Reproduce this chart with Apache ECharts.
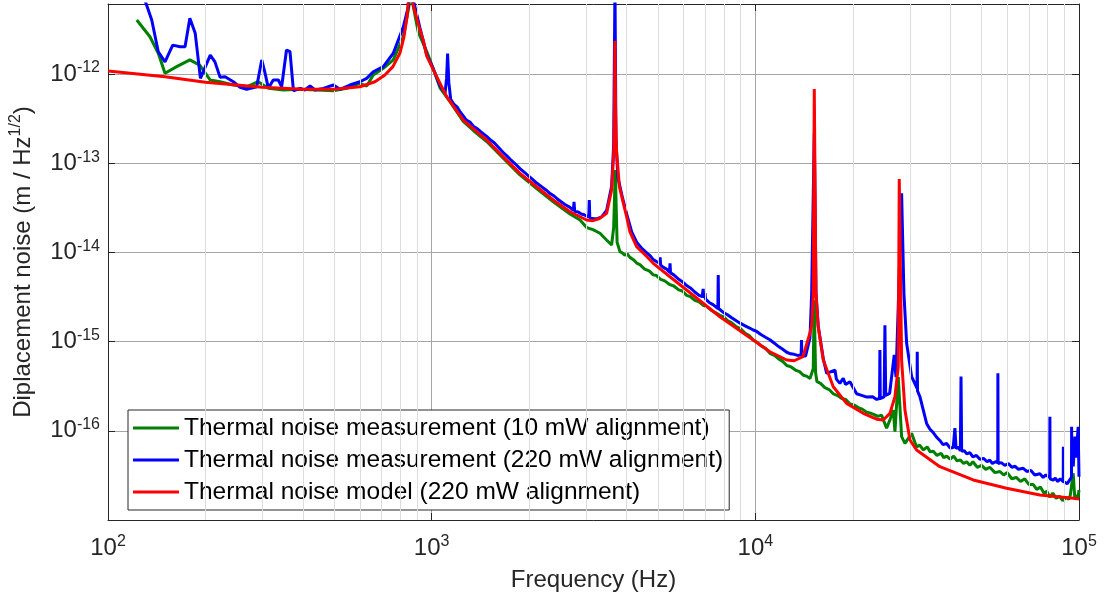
<!DOCTYPE html>
<html><head><meta charset="utf-8">
<script src="https://cdn.jsdelivr.net/npm/echarts@6.0.0/dist/echarts.min.js"></script>
<style>html,body{margin:0;padding:0;background:#fff}#c{width:1107px;height:607px}</style>
</head><body><div id="c"></div>
<script>
// ---- data (frequency Hz, displacement noise m/Hz^0.5) ----
const seriesNames = [
  'Thermal noise measurement (10 mW alignment)',
  'Thermal noise measurement (220 mW alignment)',
  'Thermal noise model (220 mW alignment)'
];
const xRange = [100, 100000];
const yRange = [1e-17, 6.1e-12];

const measured10mW = [
  [122.7,4.03e-12],[134.8,2.62e-12],[143,1.71e-12],[150,1.02e-12],[163,1.21e-12],[179,1.44e-12],
  [192,1.26e-12],[207,8.57e-13],[222,8.2e-13],[244,7.53e-13],[268,7.2e-13],[291,8.2e-13],
  [313,6.91e-13],[348,6.62e-13],[392,6.74e-13],[441,6.62e-13],[497,6.5e-13],[546,6.91e-13],
  [600,7.87e-13],[630,7.34e-13],[660,9.74e-13],[709,1.16e-12],[761,1.44e-12],[817,2.62e-12],
  [847,5.22e-12],[862,8e-12],[909,2.95e-12],[965,1.8e-12],[1011,1.15e-12],[1061,7.0e-13],
  [1139,4.9e-13],[1252,2.95e-13],[1350,2.3e-13],[1479,1.75e-13],[1664,1.14e-13],[1874,7.4e-14],
  [2110,5.2e-14],[2375,3.7e-14],[2675,2.7e-14],[2873,2.31e-14],[3012,1.9e-14],[3150,1.8e-14],
  [3311,1.64e-14],[3470,1.38e-14],[3597,1.21e-14],[3650,1.9e-14],[3692,8.4e-14],[3740,1.3e-14],
  [3817,1.02e-14],[3880,9.9e-15],[3950,9.3e-15],[4020,9.6e-15],[4098,8.8e-15],[4200,8.3e-15],
  [4298,7.6e-15],[4400,7.3e-15],[4550,6.5e-15],[4700,6.2e-15],[4838,5.6e-15],[4950,5.5e-15],
  [5100,5.0e-15],[5250,4.8e-15],[5448,4.35e-15],[5600,4.2e-15],[5800,3.8e-15],[5950,3.7e-15],
  [6134,3.3e-15],[6300,3.2e-15],[6500,2.9e-15],[6700,2.8e-15],[6905,2.55e-15],[7100,2.45e-15],
  [7300,2.25e-15],[7550,2.1e-15],[7773,1.97e-15],[8000,1.88e-15],[8200,1.72e-15],[8450,1.62e-15],
  [8753,1.46e-15],[9000,1.4e-15],[9300,1.24e-15],[9600,1.16e-15],[9851,1.04e-15],[10100,9.9e-16],
  [10400,9.0e-16],[10750,8.4e-16],[11090,7.4e-16],[11450,7.0e-16],[11800,6.4e-16],[12150,6.0e-16],
  [12500,5.4e-16],[12900,5.2e-16],[13300,4.8e-16],[13700,4.6e-16],[14070,4.2e-16],[14400,4.1e-16],
  [14750,3.85e-16],[15100,5e-16],[15200,2.9e-15],[15350,4.5e-16],[15500,3.55e-16],[15900,3.4e-16],
  [16400,3.05e-16],[16900,2.9e-16],[17410,2.6e-16],[17900,2.5e-16],[18500,2.3e-16],[19000,2.25e-16],
  [19600,2.0e-16],[20200,1.95e-16],[20800,1.82e-16],[21400,1.75e-16],[22080,1.62e-16],[22700,1.58e-16],
  [23300,1.52e-16],[23900,1.45e-16],[24550,1.5e-16],[25440,1.07e-16],[26000,1.3e-16],[26680,1.71e-16],
  [27000,9.77e-17],[27640,4e-16],[28310,8.59e-17],[28990,7.24e-17],[30400,9.37e-17],[31490,6.6e-17],
  [32200,6.9e-17],[33000,6.1e-17],[34000,6.6e-17],[34700,5.8e-17],[35460,5.9e-17],[36400,5.3e-17],
  [37500,5.6e-17],[38200,5.0e-17],[39000,5.2e-17],[40000,4.8e-17],[41000,5.2e-17],[42000,4.6e-17],
  [43000,4.7e-17],[44000,4.3e-17],[44960,4.5e-17],[46000,4.1e-17],[47000,4.5e-17],[48500,3.9e-17],
  [50000,4.1e-17],[51500,3.7e-17],[53000,3.9e-17],[55000,3.4e-17],[56970,3.5e-17],[58500,3.2e-17],
  [60000,3.4e-17],[62000,2.9e-17],[64000,3.0e-17],[66000,2.7e-17],[68000,2.9e-17],[70000,2.5e-17],
  [72240,2.5e-17],[74000,2.2e-17],[76000,2.35e-17],[78000,2.0e-17],[79500,2.1e-17],[81300,1.8e-17],
  [83000,2.0e-17],[85000,1.75e-17],[87000,1.85e-17],[89000,1.65e-17],[91560,1.8e-17],[93000,1.7e-17],
  [94000,1.9e-17],[95960,3.34e-17],[97000,1.8e-17],[98300,1.9e-17],[99200,1.75e-17],[100000,2.17e-17]
];

const measured220mW = [
  [122.7,1.2e-11],[130,6.75e-12],[136.5,4.03e-12],[143,1.78e-12],[150,1.37e-12],[158.5,2.11e-12],
  [167,2.02e-12],[173,2.02e-12],[179,4.22e-12],[186,2.86e-12],[193,8.95e-13],[207,1.63e-12],
  [214,1.37e-12],[222,9.18e-13],[230,9.33e-13],[244,8.2e-13],[256,7.1e-13],[268,6.74e-13],
  [288,7.2e-13],[298.5,1.44e-12],[305,1.06e-12],[313,6.91e-13],[324,8.57e-13],[336,8.57e-13],
  [344,7.2e-13],[356,1.86e-12],[365,1.78e-12],[374,6.5e-13],[392,6.91e-13],[406,6.62e-13],
  [421,7.34e-13],[436,6.62e-13],[463,6.91e-13],[497,7.53e-13],[521,6.74e-13],[559,7.53e-13],
  [600,8.2e-13],[630,8.95e-13],[660,1.06e-12],[709,1.21e-12],[761,1.71e-12],[817,3.36e-12],
  [847,5.69e-12],[858,1.5e-11],[880,6.5e-12],[920,3.3e-12],[965,1.65e-12],[1011,1.15e-12],
  [1061,7.4e-13],[1100,6.1e-13],[1112,9e-13],[1120,1.7e-12],[1130,8e-13],[1145,5.2e-13],
  [1170,4.6e-13],[1200,4.25e-13],[1225,3.75e-13],[1252,3.4e-13],[1280,3.05e-13],[1313,2.9e-13],
  [1345,2.6e-13],[1380,2.45e-13],[1420,2.25e-13],[1479,2.0e-13],[1520,1.82e-13],[1560,1.7e-13],
  [1610,1.5e-13],[1664,1.32e-13],[1710,1.2e-13],[1760,1.08e-13],[1815,9.8e-14],[1874,8.7e-14],
  [1935,7.9e-14],[2000,7.1e-14],[2050,6.6e-14],[2110,6.0e-14],[2180,5.5e-14],[2250,5.05e-14],
  [2310,4.65e-14],[2375,4.35e-14],[2440,4.0e-14],[2500,3.75e-14],[2580,3.45e-14],[2675,3.2e-14],
  [2740,2.95e-14],[2753,3.7e-14],[2766,2.9e-14],[2830,2.85e-14],[2900,2.7e-14],[2960,2.65e-14],
  [3012,2.55e-14],[3058,2.5e-14],[3069,3.87e-14],[3080,2.45e-14],[3150,2.4e-14],[3233,2.38e-14],
  [3350,2.5e-14],[3471,2.95e-14],[3597,5.5e-14],[3650,1.6e-13],[3684,1e-11],[3710,1.8e-13],
  [3760,7e-14],[3893,4e-14],[4004,2.7e-14],[4150,1.7e-14],[4298,1.3e-14],[4450,1.12e-14],
  [4627,9.8e-15],[4730,9.2e-15],[4838,8.3e-15],[4950,7.9e-15],[5060,7.6e-15],[5080,8.8e-15],
  [5100,7.2e-15],[5200,6.8e-15],[5320,6.5e-15],[5430,6.0e-15],[5450,7.55e-15],[5470,5.9e-15],
  [5600,5.6e-15],[5800,5.0e-15],[5950,4.7e-15],[6134,4.25e-15],[6300,4.0e-15],[6500,3.6e-15],
  [6700,3.3e-15],[6850,3.2e-15],[6900,3.9e-15],[6930,3.1e-15],[6990,3.5e-15],[7020,3.0e-15],
  [7200,2.75e-15],[7400,2.6e-15],[7550,2.45e-15],[7660,2.35e-15],[7680,5.58e-15],[7700,2.35e-15],
  [7773,2.3e-15],[8000,2.1e-15],[8200,2.0e-15],[8450,1.85e-15],[8753,1.7e-15],[9000,1.6e-15],
  [9300,1.5e-15],[9600,1.42e-15],[9851,1.35e-15],[10100,1.3e-15],[10400,1.2e-15],[10750,1.12e-15],
  [11090,1.05e-15],[11450,9.6e-16],[11800,8.8e-16],[12150,8.2e-16],[12500,7.6e-16],[12850,7.3e-16],
  [13180,7.2e-16],[13500,7.0e-16],[13850,7.1e-16],[13890,1.04e-15],[13930,6.9e-16],[14300,6.9e-16],
  [14750,1.1e-15],[14930,3.5e-15],[15210,2.2e-13],[15400,3.5e-15],[15640,1.5e-15],[16210,6.5e-16],
  [16610,4.41e-16],[17620,4.8e-16],[17800,3.8e-16],[18250,3.4e-16],[18690,3.88e-16],[19000,3.3e-16],
  [19600,3.55e-16],[20560,2.6e-16],[21300,2.5e-16],[22000,2.4e-16],[23040,2.41e-16],[23700,2.25e-16],
  [24200,2.3e-16],[24260,8.05e-16],[24320,2.3e-16],[25000,2.4e-16],[25140,1.53e-15],[25280,2.5e-16],
  [26000,2.63e-16],[26860,7.08e-16],[27200,4e-16],[27640,2.46e-15],[28310,4.6e-14],[28780,3.48e-15],
  [29340,9.57e-16],[30400,4.05e-16],[31600,3.0e-16],[31640,7.7e-16],[31700,2.8e-16],[32250,2.41e-16],
  [33820,1.21e-16],[34600,1.05e-16],[35500,9.5e-17],[36300,8.5e-17],[37160,7.8e-17],[38000,7.0e-17],
  [39000,7.2e-17],[40000,6.4e-17],[40870,6.5e-17],[41360,1.07e-16],[41700,6.3e-17],[42300,6.6e-17],
  [43000,6.0e-17],[43200,4.05e-16],[43400,5.9e-17],[44200,6.0e-17],[45000,5.5e-17],[46000,5.7e-17],
  [47000,5.1e-17],[48200,5.3e-17],[49420,4.8e-17],[50700,4.9e-17],[52000,4.5e-17],[53000,4.7e-17],
  [54000,4.3e-17],[55200,4.5e-17],[56100,4.4e-17],[56160,4.41e-16],[56250,4.3e-17],[57500,4.4e-17],
  [59000,4.1e-17],[60500,4.3e-17],[62000,3.9e-17],[63500,4.0e-17],[65000,3.7e-17],[67260,3.8e-17],
  [69000,3.5e-17],[71000,3.6e-17],[73000,3.2e-17],[75720,3.3e-17],[77500,3.0e-17],[79000,3.2e-17],
  [81200,3.0e-17],[81300,1.44e-16],[81400,2.9e-17],[82300,3.0e-17],[83250,2.8e-17],[84500,2.95e-17],
  [86000,2.7e-17],[87500,2.9e-17],[89400,2.7e-17],[89460,6.64e-17],[89520,2.7e-17],[90500,2.8e-17],
  [92000,2.55e-17],[93500,2.8e-17],[94800,3e-17],[94880,1.11e-16],[95000,6e-17],[96000,4e-17],
  [97100,8.59e-17],[98000,5e-17],[99400,1.11e-16],[100000,3.06e-17]
];

const model220mW = [
  [100,1.08e-12],[150,9.3e-13],[200,8.07e-13],[300,7.1e-13],[400,6.74e-13],[500,6.74e-13],
  [600,7.2e-13],[668,8.2e-13],[717,9.75e-13],[759,1.21e-12],[798,1.72e-12],[821,2.6e-12],
  [839,4.36e-12],[848,7.0e-12],[855,1.5e-11],[876,6.0e-12],[920,3.11e-12],[942,2.4e-12],
  [965,1.6e-12],[1000,1.22e-12],[1027,1.0e-12],[1113,5.57e-13],[1252,3.05e-13],[1479,1.82e-13],
  [1664,1.18e-13],[1874,7.7e-14],[2110,5.45e-14],[2375,3.87e-14],[2675,2.86e-14],[3012,2.31e-14],
  [3150,2.27e-14],[3300,2.4e-14],[3471,2.74e-14],[3597,5.0e-14],[3655,1.4e-13],[3670,4e-13],
  [3684,2.34e-12],[3700,4e-13],[3725,1.4e-13],[3800,5.5e-14],[3893,3.8e-14],[4004,2.5e-14],
  [4098,1.7e-14],[4298,1.16e-14],[4627,8.95e-15],[4838,7.55e-15],[5448,5.34e-15],[6134,3.79e-15],
  [7773,1.9e-15],[9851,1.04e-15],[11090,7.7e-16],[12500,6.22e-16],[13180,6.1e-16],[14030,6.78e-16],
  [14750,1.25e-15],[14930,1.5e-15],[15100,3.48e-15],[15210,6.8e-13],[15390,3.48e-15],[15640,1.47e-15],
  [16210,6.22e-16],[17410,3.12e-16],[19140,2.03e-16],[21550,1.57e-16],[23700,1.35e-16],[24850,1.32e-16],
  [26050,1.57e-16],[27000,2.41e-16],[27640,5.23e-16],[27840,6.65e-14],[28310,6.22e-16],[28990,1.71e-16],
  [30040,7.89e-17],[31490,6.09e-17],[37160,3.96e-17],[47120,2.81e-17],[59750,2.27e-17],[75720,1.91e-17],
  [95960,1.75e-17],[100000,1.72e-17]
];

const seriesColors = ['#008000', '#0000ff', '#ff0000'];

// ---- chart ----
const axisColor = '#262626';
const fontFamily = 'Liberation Sans, Arial, sans-serif';
const richExp = {
  b: { fontSize: 24, lineHeight: 28, color: axisColor, fontFamily },
  e: { fontSize: 16, lineHeight: 16, verticalAlign: 'top', color: axisColor, fontFamily }
};
function powLabel(v) {
  if (!(v > 0)) return '';
  const l = Math.log10(v), e = Math.round(l);
  if (Math.abs(l - e) > 1e-6) return '';
  if (e === -17) return '';
  return '{b|10}{e|' + e + '}';
}

const minorX = [], minorY = [];
for (let n = 2; n <= 4; n++) for (let k = 2; k <= 9; k++) minorX.push({ xAxis: k * Math.pow(10, n) });
for (let n = -17; n <= -12; n++) for (let k = 2; k <= 9; k++) {
  const v = k * Math.pow(10, n);
  if (v < yRange[1]) minorY.push({ yAxis: v });
}

const baseX = {
  type: 'log', logBase: 10, min: xRange[0], max: xRange[1],
  axisLine: { show: true, onZero: false, lineStyle: { color: axisColor, width: 1 } },
  axisTick: { show: true, inside: true, length: 7, lineStyle: { color: axisColor } },
  minorTick: { show: true, splitNumber: 9, length: 5, lineStyle: { color: axisColor } },
};
const baseY = {
  type: 'log', logBase: 10, min: yRange[0], max: yRange[1],
  axisLine: { show: true, onZero: false, lineStyle: { color: axisColor, width: 1 } },
  axisTick: { show: true, inside: true, length: 7, lineStyle: { color: axisColor } },
};

const lineW = 3;
const chart = echarts.init(document.getElementById('c'), null, { renderer: 'canvas' });
chart.setOption({
  animation: false,
  backgroundColor: '#fff',
  grid: { left: 108, right: 28, top: 4, bottom: 87, containLabel: false },
  xAxis: [
    Object.assign({}, baseX, {
      position: 'bottom',
      splitLine: { show: true, lineStyle: { color: '#a6a6a6', width: 1 } },
      axisLabel: { formatter: powLabel, rich: richExp, margin: 14, color: axisColor },
      name: 'Frequency (Hz)', nameLocation: 'middle', nameGap: 48,
      nameTextStyle: { fontSize: 24, color: axisColor, fontFamily }
    }),
    Object.assign({}, baseX, {
      position: 'top', splitLine: { show: false }, axisLabel: { show: false }
    })
  ],
  yAxis: [
    Object.assign({}, baseY, {
      position: 'left',
      splitLine: { show: true, lineStyle: { color: '#a6a6a6', width: 1 } },
      axisLabel: { formatter: powLabel, rich: richExp, margin: 8, color: axisColor },
      name: '{a|Diplacement noise (m / Hz}{s|1/2}{a|)}', nameLocation: 'middle', nameGap: 70, nameRotate: 90,
      nameTextStyle: { color: axisColor, rich: {
        a: { fontSize: 24, lineHeight: 30, color: axisColor, fontFamily },
        s: { fontSize: 16, lineHeight: 16, verticalAlign: 'top', color: axisColor, fontFamily }
      } }
    }),
    Object.assign({}, baseY, {
      position: 'right', splitLine: { show: false }, axisLabel: { show: false }
    })
  ],
  legend: {
    data: seriesNames,
    orient: 'vertical', left: 128, top: 410,
    padding: [4, 6, 4, 5], itemGap: 4, itemWidth: 46, itemHeight: 3,
    icon: 'rect',
    backgroundColor: '#fff', borderColor: axisColor, borderWidth: 1, borderRadius: 0,
    textStyle: { fontSize: 24.5, lineHeight: 28, color: '#000', fontFamily },
    selectedMode: false
  },
  series: [
    {
      type: 'line', data: [], silent: true, z: 1,
      markLine: {
        silent: true, symbol: ['none', 'none'], label: { show: false },
        lineStyle: { color: '#dcdcdc', width: 1, type: 'solid' },
        emphasis: { disabled: true },
        data: minorX.concat(minorY)
      }
    },
    { name: seriesNames[0], type: 'line', data: measured10mW, showSymbol: false, symbol: 'none',
      lineStyle: { color: seriesColors[0], width: lineW }, itemStyle: { color: seriesColors[0] }, z: 3 },
    { name: seriesNames[1], type: 'line', data: measured220mW, showSymbol: false, symbol: 'none',
      lineStyle: { color: seriesColors[1], width: lineW }, itemStyle: { color: seriesColors[1] }, z: 4 },
    { name: seriesNames[2], type: 'line', data: model220mW, showSymbol: false, symbol: 'none',
      lineStyle: { color: seriesColors[2], width: lineW }, itemStyle: { color: seriesColors[2] }, z: 5 }
  ]
});
</script>
</body></html>
